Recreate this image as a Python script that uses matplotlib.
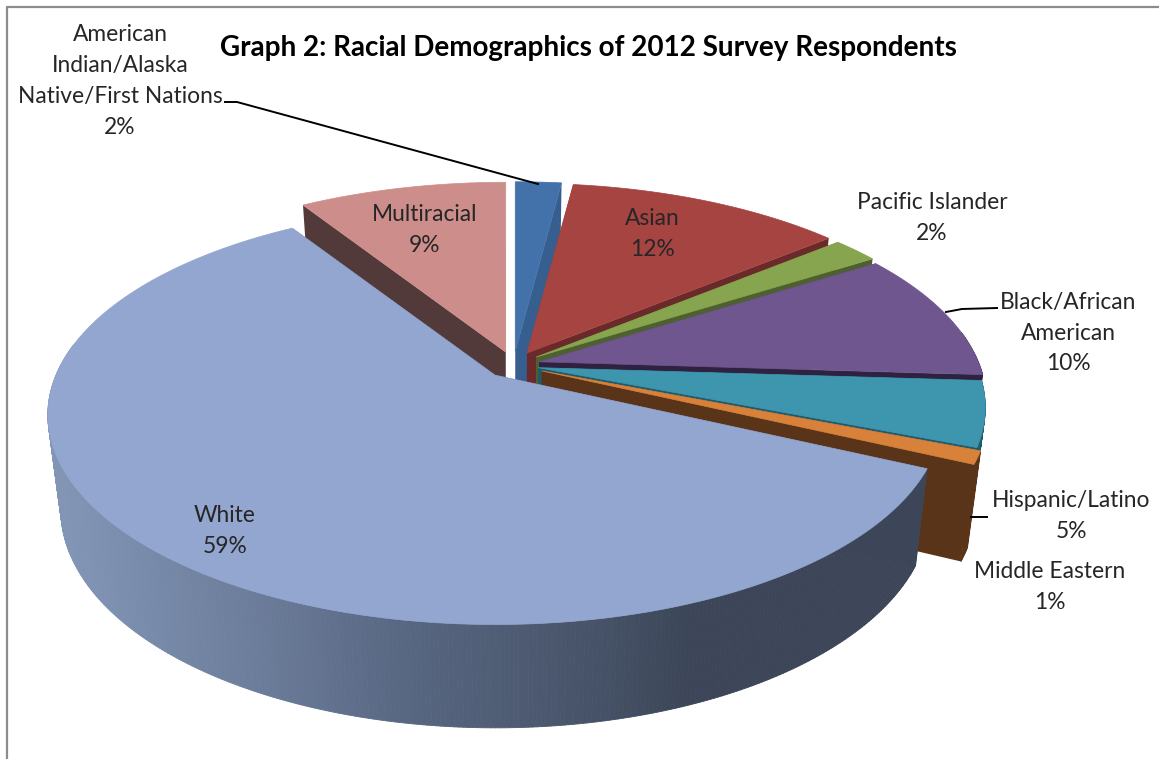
import numpy as np
import matplotlib
matplotlib.use('Agg')
import matplotlib.pyplot as plt
from matplotlib.collections import PolyCollection
from matplotlib.colors import to_rgb

plt.rcParams['font.family'] = ['Lato', 'DejaVu Sans']

# survey shares, clockwise from 12 o'clock
names = ['American\nIndian/Alaska\nNative/First Nations', 'Asian', 'Pacific Islander',
         'Black/African\nAmerican', 'Hispanic/Latino', 'Middle Eastern', 'White', 'Multiracial']
values = [2, 12, 2, 10, 5, 1, 59, 9]

top_colors = ['#4371a9', '#a64442', '#87a44f', '#6f568f', '#3e95ae', '#d8813a', '#92a6cf', '#cd8d8b']
wall_colors = ['#365f8f', '#6a2a29', '#4f6030', '#2f2140', '#1f5a6d', '#5a3418', '#3c4658', '#533a3a']
# how far each slice is pulled out of the pie
explode = [1, 1, 1, 0.95, 0.9, 1.1, 1, 1]

# pie geometry, in pixels
cx, cy = 513.5, 365
rx, ry = 439, 202
persp = 0.19
explode_x, explode_y = 28, 13.5
depth = 93
bottom_scale = 0.972

fig = plt.figure(figsize=(11.59, 7.59), dpi=100)
ax = fig.add_axes([0, 0, 1, 1])
ax.set_xlim(0, 1159)
ax.set_ylim(759, 0)
ax.axis('off')


def top_point(theta, ax0, ay0):
    # theta in degrees clockwise from the top, tilted circle with perspective
    t = np.radians(theta)
    d = 1 + persp * np.cos(t)
    return ax0 + rx * np.sin(t) / d, ay0 - ry * np.cos(t) / d


def bottom_point(theta, ax0, ay0):
    x, y = top_point(theta, ax0, ay0)
    d = 1 + persp * np.cos(np.radians(theta))
    return cx + (x - cx) * bottom_scale, y + depth / np.sqrt(d)


def apex_bottom(ax0, ay0):
    return cx + (ax0 - cx) * bottom_scale, ay0 + depth


def wall_shade(x):
    # the side of the big slice darkens from left to right
    stops = [60, 250, 400, 600, 690]
    r = np.interp(x, stops, [130, 108, 88, 70, 60])
    g = np.interp(x, stops, [149, 125, 103, 82, 70])
    b = np.interp(x, stops, [181, 155, 130, 103, 88])
    return (r / 255, g / 255, b / 255)


def draw_slice(i, start, end, z):
    mid = np.radians((start + end) / 2)
    ax0 = cx + explode[i] * explode_x * np.sin(mid)
    ay0 = cy - explode[i] * explode_y * np.cos(mid)
    wall = wall_colors[i]
    bx, by = apex_bottom(ax0, ay0)

    # straight side at the start of the slice
    x1, y1 = top_point(start, ax0, ay0)
    x2, y2 = bottom_point(start, ax0, ay0)
    ax.fill([ax0, x1, x2, bx], [ay0, y1, y2, by], color=wall, lw=0, zorder=z)

    # outer rim, only the part facing the viewer
    thetas = np.linspace(start, end, max(int((end - start) * 2), 4))
    quads, cols = [], []
    for a, b in zip(thetas[:-1], thetas[1:]):
        if np.cos(np.radians(a)) > 0.15:
            continue
        p1 = top_point(a, ax0, ay0)
        p2 = top_point(b, ax0, ay0)
        p3 = bottom_point(b, ax0, ay0)
        p4 = bottom_point(a, ax0, ay0)
        quads.append([p1, p2, p3, p4])
        if i == 6:
            cols.append(wall_shade((p1[0] + p2[0]) / 2))
        else:
            cols.append(to_rgb(wall))
    if quads:
        ax.add_collection(PolyCollection(quads, facecolors=cols, edgecolors=cols, linewidths=0.6,
                                         zorder=z))

    # straight side at the end of the slice
    x1, y1 = top_point(end, ax0, ay0)
    x2, y2 = bottom_point(end, ax0, ay0)
    ax.fill([ax0, x1, x2, bx], [ay0, y1, y2, by], color=wall, lw=0, zorder=z)

    # top face
    xs, ys = top_point(thetas, ax0, ay0)
    ax.fill(np.r_[ax0, xs], np.r_[ay0, ys], facecolor=top_colors[i], edgecolor=top_colors[i],
            lw=0.5, zorder=z + 1)


edges = np.cumsum([0] + values) * 3.6
# multiracial sits behind the others, white in front of them all
order = [7, 0, 1, 2, 3, 4, 5, 6]
for rank, i in enumerate(order):
    draw_slice(i, edges[i], edges[i + 1], rank * 3 + 1)

# labels
label_xy = [(120, 81), (652, 234), (932, 218), (1068, 333), (1071, 516), (1050, 587), (225, 531), (425, 230)]
for name, val, (x, y) in zip(names, values, label_xy):
    ax.text(x, y, f'{name}\n{val}%', ha='center', va='center', fontsize=16.4, color='#262626',
            linespacing=1.58, zorder=60)

# leader lines
ax.plot([225, 237, 538], [102, 102, 184], color='black', lw=1.4, zorder=55)
ax.plot([946, 962, 997], [312, 309, 308], color='black', lw=1.4, zorder=55)
ax.plot([971, 987], [517, 517], color='black', lw=1.4, zorder=55)

# chart area border, only left and top fall inside the frame
ax.plot([6.5, 6.5, 1159], [759, 7, 7], color='#8c8c8c', lw=1.6, zorder=50)

ax.text(588, 48, 'Graph 2: Racial Demographics of 2012 Survey Respondents', ha='center', va='center',
        fontsize=20.05, fontweight='bold', color='black', zorder=60)

fig.savefig('out.png', dpi=100)
